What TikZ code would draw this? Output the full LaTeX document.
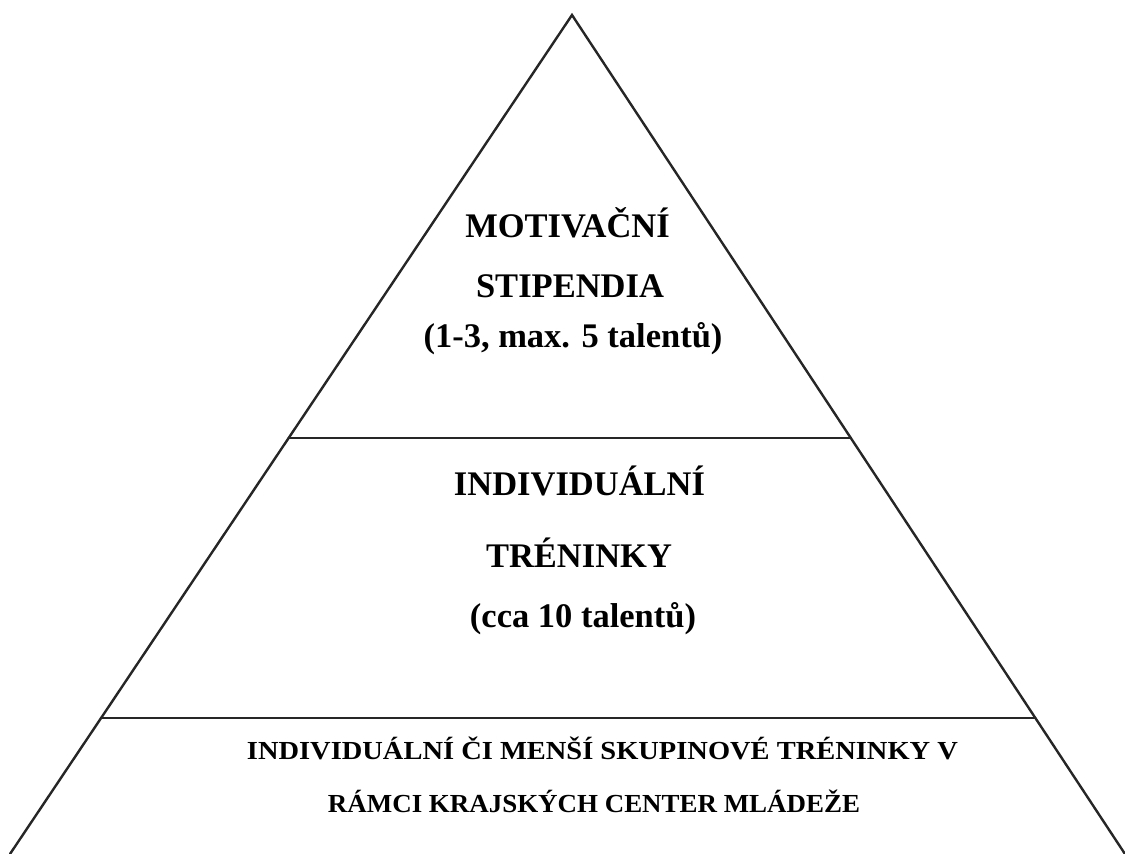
\documentclass[tikz,border=0pt]{standalone}
\usepackage{fontspec}
\setmainfont{Liberation Serif}[BoldFont={Liberation Serif Bold}]
\usetikzlibrary{calc}
\tikzset{
  edge/.style={line width=2.4pt, draw=black!85, line cap=round},
  big/.style={font=\fontsize{34.5}{40}\selectfont\bfseries, anchor=base, inner sep=0pt},
  small/.style={font=\fontsize{26}{30}\selectfont\bfseries, anchor=base, inner sep=0pt}
}
\begin{document}
\begin{tikzpicture}[x=1pt, y=-1pt]
\useasboundingbox (0,0) rectangle (1125,854);
\coordinate (apex) at (572,15);
\coordinate (bl) at (10,854);
\coordinate (br) at (1125,854);
\coordinate (l1) at ($(apex)!0.5042!(bl)$);
\coordinate (r1) at ($(apex)!0.5042!(br)$);
\coordinate (l2) at ($(apex)!0.8379!(bl)$);
\coordinate (r2) at ($(apex)!0.8379!(br)$);
\draw[edge] (bl) -- (apex) -- (br);
\draw[edge] (l1) -- (r1);
\draw[edge] (l2) -- (r2);
\node[big] (t1) at (567.5,237) {MOTIVAČNÍ};
\node[big] (t2) at (570,297) {STIPENDIA};
\node[big] (t3) at (573,347) {(1-3, max. 5 talentů)};
\node[big] (m1) at (579.5,495) {INDIVIDUÁLNÍ};
\node[big] (m2) at (579,567) {TRÉNINKY};
\node[big] (m3) at (583,627) {(cca 10 talentů)};
\node[small] (b1) at (602.5,759) {\resizebox{711pt}{\height}{INDIVIDUÁLNÍ ČI MENŠÍ SKUPINOVÉ TRÉNINKY V}};
\node[small] (b2) at (594,812) {\resizebox{532pt}{\height}{RÁMCI KRAJSKÝCH CENTER MLÁDEŽE}};
\end{tikzpicture}
\end{document}
